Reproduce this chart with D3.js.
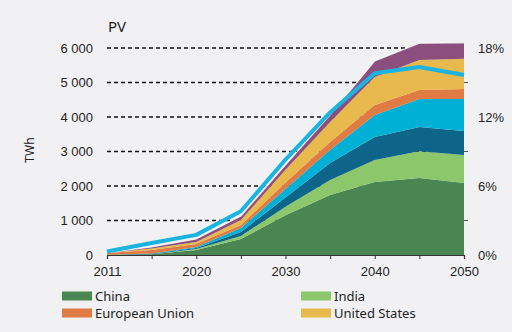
<!DOCTYPE html>
<html>
<head>
<meta charset="utf-8">
<script src="https://cdn.jsdelivr.net/npm/d3@7"></script>
<style>
  body { margin: 0; background: #f1f1f3; }
  svg { display: block; font-family: "Noto Sans", sans-serif; }
</style>
</head>
<body>
<div id="chart"></div>
<script>
var years = ["2011", "2015", "2020", "2025", "2030", "2035", "2040", "2045", "2050"];
var yearLabels = ["2011", "2020", "2030", "2040", "2050"];

// generation by region, TWh
var china    = [5, 20, 145, 464, 1150, 1740, 2115, 2230, 2090];
var india    = [1, 5, 29, 87, 250, 435, 640, 780, 810];
var otherAsia = [2, 10, 29, 116, 270, 495, 665, 700, 695];
var otherReg = [2, 10, 29, 116, 240, 375, 640, 810, 930];
var eu       = [45, 100, 87, 87, 190, 230, 290, 260, 290];
var us       = [5, 40, 58, 144, 370, 580, 810, 870, 870];
var rest     = [10, 50, 87, 116, 140, 205, 465, 490, 465];

// PV share of generation, %
var share = [0.3, 1.05, 1.75, 3.8, 8.3, 12.4, 15.8, 16.35, 15.65];

var yTicks = [0, 1000, 2000, 3000, 4000, 5000, 6000];
var shareTicks = [0, 6, 12, 18];

var seriesNames = ["China", "India", "otherAsia", "otherReg", "European Union", "United States", "rest"];
var seriesValues = [china, india, otherAsia, otherReg, eu, us, rest];
var colors = ["#4a8651", "#8cc76b", "#0d6689", "#00b1d5", "#e07b43", "#e8b94d", "#8c4f7d"];

var width = 512, height = 332;

var table = years.map(function(y, i) {
  var row = { year: y };
  seriesNames.forEach(function(n, k) { row[n] = seriesValues[k][i]; });
  return row;
});

var x = d3.scalePoint().domain(years).range([107, 464]);
var y = d3.scaleLinear().domain([0, 6000]).range([255, 48]);
var y2 = d3.scaleLinear().domain([0, 18]).range([255, 48]);

var svg = d3.select("#chart").append("svg")
  .attr("width", width)
  .attr("height", height);

svg.append("rect").attr("width", width).attr("height", height).attr("fill", "#f1f1f3");

// dashed gridlines
svg.append("g").selectAll("line")
  .data(yTicks.slice(1))
  .enter().append("line")
  .attr("x1", 107).attr("x2", 464)
  .attr("y1", function(d) { return y(d); })
  .attr("y2", function(d) { return y(d); })
  .attr("stroke", "#111")
  .attr("stroke-width", 1.3)
  .attr("stroke-dasharray", "4,3");

var stack = d3.stack().keys(seriesNames);
var layers = stack(table);

var area = d3.area()
  .x(function(d) { return x(d.data.year); })
  .y0(function(d) { return y(d[0]); })
  .y1(function(d) { return y(d[1]); });

svg.append("g").selectAll("path")
  .data(layers)
  .enter().append("path")
  .attr("d", area)
  .attr("fill", function(d, i) { return colors[i]; });

// light edge along the top of the stack
svg.append("path")
  .datum(layers[layers.length - 1])
  .attr("d", d3.line()
    .x(function(d) { return x(d.data.year); })
    .y(function(d) { return y(d[1]); }))
  .attr("fill", "none")
  .attr("stroke", "#ffffff")
  .attr("stroke-width", 1.2)
  .attr("opacity", 0.8);

// share line on the right axis
svg.append("path")
  .datum(share)
  .attr("d", d3.line()
    .x(function(d, i) { return x(years[i]); })
    .y(function(d) { return y2(d); }))
  .attr("fill", "none")
  .attr("stroke", "#19b5e0")
  .attr("stroke-width", 4)
  .attr("stroke-linejoin", "round");

// x axis
var xAxis = d3.axisBottom(x)
  .tickSize(4)
  .tickFormat(function(d) { return yearLabels.indexOf(d) >= 0 ? d : ""; });
var gx = svg.append("g").attr("transform", "translate(0,255)").call(xAxis);
gx.select(".domain").attr("stroke", "#333").attr("stroke-width", 1.2);
gx.selectAll(".tick line").attr("stroke", "#333");
gx.selectAll("text").attr("font-size", 13).attr("fill", "#222").attr("dy", "1.1em");

// left axis
var yAxis = d3.axisLeft(y).tickValues(yTicks).tickSize(0).tickPadding(14)
  .tickFormat(function(d) { return d3.format(",")(d).replace(",", " "); });
var gy = svg.append("g").attr("transform", "translate(107,0)").call(yAxis);
gy.select(".domain").remove();
gy.selectAll("text").attr("font-size", 13).attr("fill", "#222");

// right axis
var yAxis2 = d3.axisRight(y2).tickValues(shareTicks).tickSize(0).tickPadding(14)
  .tickFormat(function(d) { return d + "%"; });
var gy2 = svg.append("g").attr("transform", "translate(464,0)").call(yAxis2);
gy2.select(".domain").remove();
gy2.selectAll("text").attr("font-size", 13).attr("fill", "#222");

svg.append("g").selectAll("line")
  .data([3, 9, 15])
  .enter().append("line")
  .attr("x1", 464).attr("x2", 468)
  .attr("y1", function(d) { return y2(d); })
  .attr("y2", function(d) { return y2(d); })
  .attr("stroke", "#555");

svg.append("text")
  .attr("x", 108).attr("y", 32)
  .attr("font-size", 15).attr("fill", "#222")
  .text("PV");

svg.append("text")
  .attr("transform", "translate(34,150) rotate(-90)")
  .attr("text-anchor", "middle")
  .attr("font-size", 12).attr("fill", "#222")
  .text("TWh");

// legend
var legend = [
  { name: "China", color: colors[0], x: 62, y: 296 },
  { name: "India", color: colors[1], x: 301, y: 296 },
  { name: "European Union", color: colors[4], x: 62, y: 313 },
  { name: "United States", color: colors[5], x: 301, y: 313 }
];
var lg = svg.append("g").selectAll("g").data(legend).enter().append("g");
lg.append("rect")
  .attr("x", function(d) { return d.x; })
  .attr("y", function(d) { return d.y - 4.5; })
  .attr("width", 30).attr("height", 9)
  .attr("fill", function(d) { return d.color; });
lg.append("text")
  .attr("x", function(d) { return d.x + 33; })
  .attr("y", function(d) { return d.y; })
  .attr("dy", "0.35em")
  .attr("font-size", 13).attr("fill", "#222")
  .text(function(d) { return d.name; });
</script>
</body>
</html>
